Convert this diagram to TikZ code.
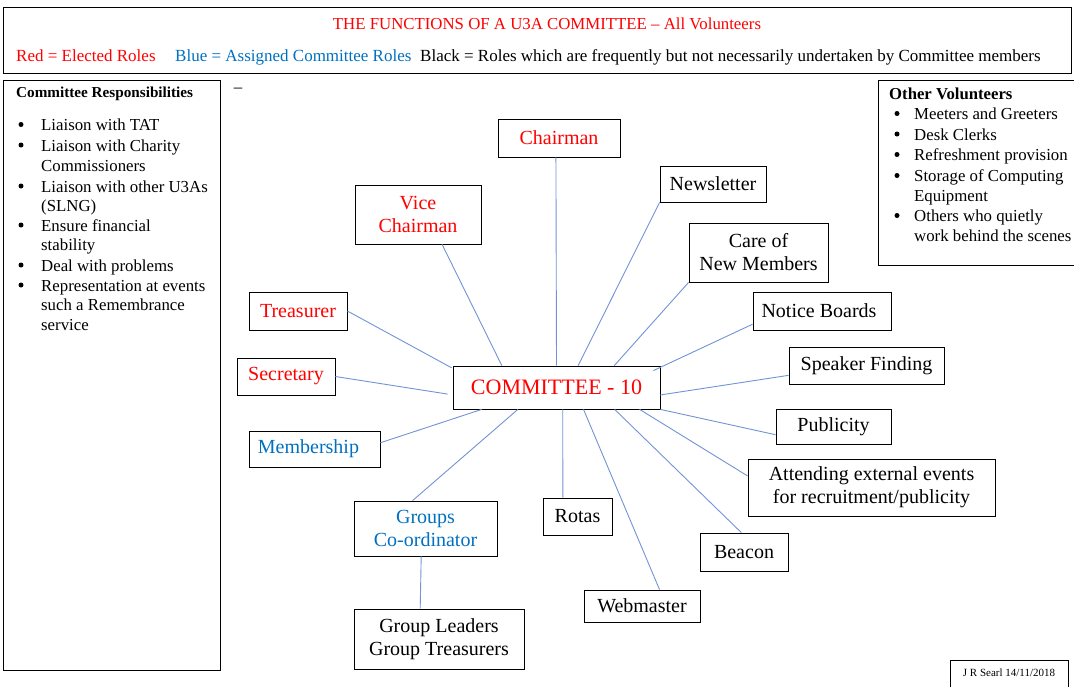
\documentclass[tikz,border=0pt]{standalone}
\usepackage{fontspec}
\setmainfont{Liberation Serif}
\usetikzlibrary{calc}
\definecolor{rolered}{RGB}{255,0,0}
\definecolor{roleblue}{RGB}{0,112,192}
\definecolor{linkblue}{RGB}{114,147,212}
\begin{document}
\begin{tikzpicture}[x=1pt,y=-1pt,
  role/.style={draw=black, line width=0.8pt, inner sep=0pt, align=center,
    font=\fontsize{20}{23}\selectfont},
  elected/.style={role, text=rolered},
  assigned/.style={role, text=roleblue},
  frame/.style={draw=black, line width=0.8pt},
  conn/.style={draw=linkblue, line width=0.9pt},
  listtext/.style={anchor=base west, inner sep=0pt, font=\fontsize{16.8}{20}\selectfont},
  bul/.style={circle, fill=black, inner sep=0pt, minimum size=5pt},
  legend/.style={anchor=base west, inner sep=0pt, font=\fontsize{17}{20}\selectfont}]
\useasboundingbox (0,0) rectangle (1074,686);

% ---------- header ----------
\draw[frame] (3,7) rectangle (1071,73);
\node[anchor=base, inner sep=0pt, text=rolered, font=\fontsize{16.8}{20}\selectfont] (title) at (547,29)
  {THE FUNCTIONS OF A U3A COMMITTEE -- All Volunteers};
\node[legend, text=rolered] (lgred) at (16,61) {Red = Elected Roles};
\node[legend, text=roleblue] (lgblue) at (175,61) {Blue = Assigned Committee Roles};
\node[legend] (lgblack) at (420,61) {Black = Roles which are frequently but not necessarily undertaken by Committee members};

% ---------- left box ----------
\draw[frame] (3,80) rectangle (220,670);
\node[anchor=base west, inner sep=0pt, font=\fontsize{15.2}{18}\selectfont\bfseries] (lhead) at (16,97.5) {Committee Responsibilities};
\foreach \yy/\tt/\bb [count=\i] in {124.5/Liaison with TAT/1, 145/Liaison with Charity/1,
    165/Commissioners/0, 186/Liaison with other U3As/1, 205/(SLNG)/0,
    225/Ensure financial/1, 244/stability/0, 265/Deal with problems/1,
    285/Representation at events/1, 304/such a Remembrance/0, 324/service/0}{
  \node[listtext] (lt\i) at (41,\yy+6) {\tt};
  \ifnum\bb=1 \node[bul] (lb\i) at (21,\yy) {}; \fi
}
\node[inner sep=0pt, font=\fontsize{16.8}{20}\selectfont] (dash) at (238,90) {--};

% ---------- right box ----------
\draw[frame] (878,80) rectangle (1077,265);
\node[anchor=base west, inner sep=0pt, font=\fontsize{16.7}{20}\selectfont\bfseries] (rhead) at (889,99.5) {Other Volunteers};
\foreach \yy/\tt/\bb [count=\i] in {113.5/Meeters and Greeters/1, 134/Desk Clerks/1,
    154.5/Refreshment provision/1, 175.5/Storage of Computing/1, 195.5/Equipment/0,
    215.5/Others who quietly/1, 235.5/work behind the scenes/0}{
  \node[listtext] (rt\i) at (914,\yy+6) {\tt};
  \ifnum\bb=1 \node[bul] (rb\i) at (897,\yy) {}; \fi
}

% ---------- signature ----------
\draw[frame] (950,660) rectangle (1068,692);
\node[inner sep=0pt, font=\fontsize{11}{13}\selectfont] (sig) at (1009,673) {J R Searl 14/11/2018};

% ---------- role boxes ----------
\node[elected, minimum width=207pt, minimum height=43pt, font=\fontsize{22}{26}\selectfont] (comm) at (556.5,387.5) {COMMITTEE - 10};
\node[elected, minimum width=122pt, minimum height=38pt] (chair) at (559,138) {Chairman};
\node[elected, minimum width=126pt, minimum height=59pt] (vice) at (418,214.5) {Vice\\Chairman};
\node[elected, minimum width=98pt, minimum height=38pt] (treas) at (298,311) {Treasurer};
\node[elected, minimum width=98pt, minimum height=37pt] (secr) at (286,376.5) {Secretary};
\node[assigned, minimum width=131pt, minimum height=36pt] (memb) at (314.5,449) {Membership\hspace{12pt}};
\node[assigned, minimum width=143pt, minimum height=55pt] (groups) at (425.5,528.5) {Groups\\Co-ordinator};
\node[role, minimum width=170pt, minimum height=60pt] (leaders) at (439,639) {Group Leaders\\Group Treasurers};
\node[role, minimum width=106pt, minimum height=36pt] (news) at (713,184) {Newsletter};
\node[role, minimum width=139pt, minimum height=59pt] (care) at (758.5,252.5) {Care of\\New Members};
\node[role, minimum width=138pt, minimum height=38pt] (notice) at (822,311) {Notice Boards\hspace{6pt}};
\node[role, minimum width=155pt, minimum height=37pt] (speak) at (866.5,365.5) {Speaker Finding};
\node[role, minimum width=115pt, minimum height=35pt] (publ) at (833.5,426.5) {Publicity};
\node[role, minimum width=247pt, minimum height=57pt] (attend) at (871.5,487.5) {Attending external events\\for recruitment/publicity};
\node[role, minimum width=69pt, minimum height=37pt] (rotas) at (577.5,516.5) {Rotas};
\node[role, minimum width=88pt, minimum height=38pt] (beacon) at (744,552) {Beacon};
\node[role, minimum width=116pt, minimum height=32pt] (web) at (642,606) {Webmaster};

% ---------- connectors ----------
\draw[conn] ($(comm.north west)!0.5!(comm.north east)$) -- ($(chair.south west)!0.475!(chair.south east)$);
\draw[conn] ($(comm.north west)!0.237!(comm.north east)$) -- ($(vice.south west)!0.69!(vice.south east)$);
\draw[conn] ($(comm.north west)!0.604!(comm.north east)$) -- (news.south west);
\draw[conn] ($(comm.north west)!0.778!(comm.north east)$) -- (care.south west);
\draw[conn] ($(comm.north west)!0.05!(comm.south west)+(-1,0)$) -- (treas.east);
\draw[conn] ($(comm.north west)!0.65!(comm.south west)+(-5,0)$) -- (secr.east);
\draw[conn] ($(comm.south west)!0.14!(comm.south east)$) -- ($(memb.north east)!0.33!(memb.south east)$);
\draw[conn] ($(comm.south west)!0.314!(comm.south east)$) -- ($(groups.north west)!0.41!(groups.north east)$);
\draw[conn] ($(comm.south west)!0.53!(comm.south east)$) -- ($(rotas.north west)!0.29!(rotas.north east)$);
\draw[conn] ($(comm.south west)!0.63!(comm.south east)$) -- ($(web.north west)!0.65!(web.north east)$);
\draw[conn] ($(comm.south west)!0.78!(comm.south east)$) -- ($(beacon.north west)!0.47!(beacon.north east)$);
\draw[conn] ($(comm.south west)!0.90!(comm.south east)$) -- ($(attend.north west)!0.3!(attend.south west)$);
\draw[conn] (comm.south east) -- ($(publ.north west)!0.73!(publ.south west)$);
\draw[conn] ($(comm.north east)!0.67!(comm.south east)$) -- ($(speak.north west)!0.76!(speak.south west)$);
\draw[conn] ($(comm.north east)+(-7,5)$) -- ($(notice.north west)!0.84!(notice.south west)$);
\draw[conn] ($(groups.south west)!0.47!(groups.south east)$) -- ($(leaders.north west)!0.39!(leaders.north east)$);
\end{tikzpicture}
\end{document}
